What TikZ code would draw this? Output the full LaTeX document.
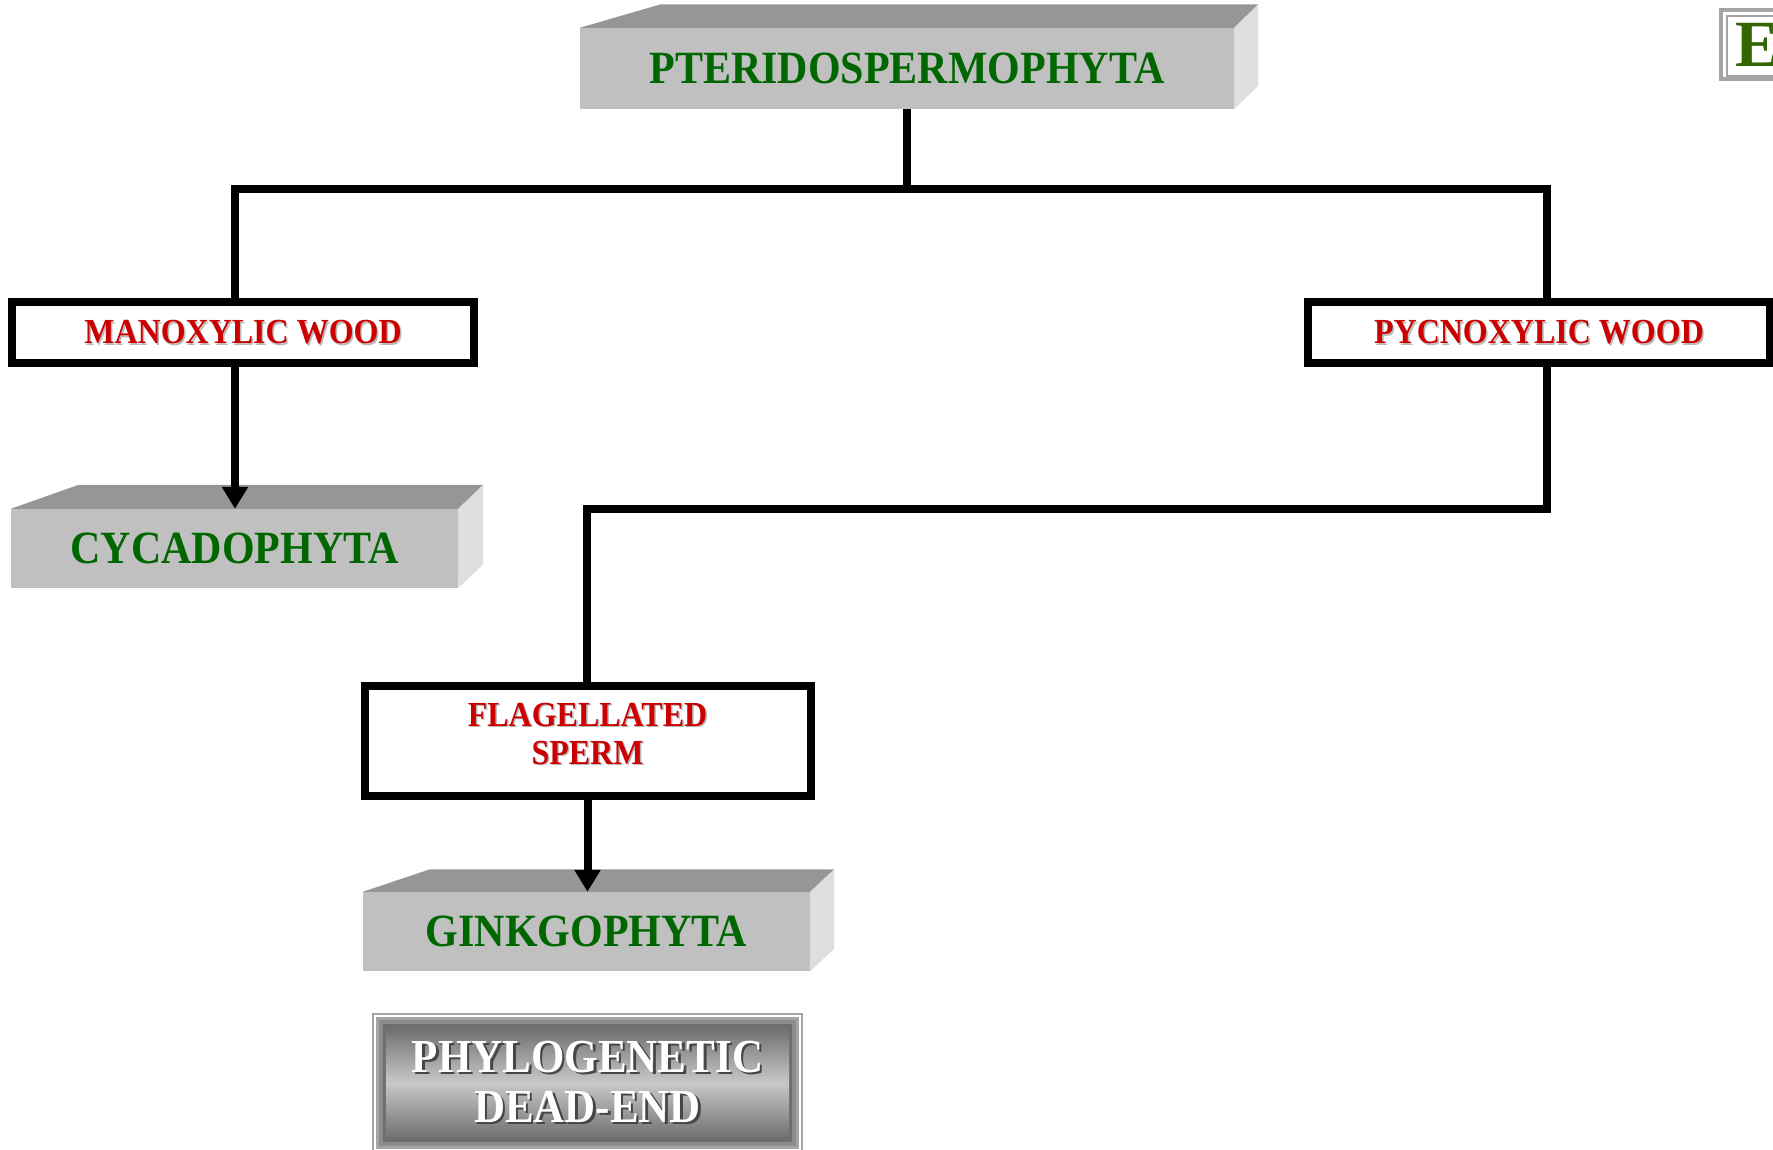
\documentclass[tikz,border=0pt]{standalone}
\usepackage{fontspec}
\setmainfont{Liberation Serif}
\usetikzlibrary{arrows.meta}
\definecolor{boxfront}{RGB}{192,192,192}
\definecolor{boxtop}{RGB}{150,150,150}
\definecolor{boxside}{RGB}{222,222,222}
\definecolor{tgreen}{RGB}{0,102,0}
\definecolor{tred}{RGB}{204,0,0}
\definecolor{rshadow}{RGB}{185,185,185}
\definecolor{egreen}{RGB}{51,102,0}
\definecolor{frameg}{RGB}{165,165,165}
\definecolor{framemid}{RGB}{140,140,140}
\definecolor{deaddark}{RGB}{110,110,110}
\definecolor{deadlight}{RGB}{200,200,200}
\definecolor{wshadow}{RGB}{70,70,70}
\newcommand{\stretchtxt}[1]{\scalebox{1}[1.1]{#1}}
\newcommand{\redtxt}[1]{\stretchtxt{\rlap{\kern1.5pt\raisebox{-1.5pt}{\color{rshadow}#1}}\color{tred}#1}}
\newcommand{\whitetxt}[1]{\stretchtxt{\rlap{\kern2.5pt\raisebox{-2.5pt}{\color{wshadow}#1}}\color{white}#1}}
\newcommand{\boxfaces}[4]{%
  \fill[boxtop] (#1.north west) -- ++(#2,#4) -- ([shift={(#3,#4)}]#1.north east) -- (#1.north east) -- cycle;
  \fill[boxside] (#1.north east) -- ++(#3,#4) -- ([shift={(#3,#4)}]#1.south east) -- (#1.south east) -- cycle;}
\begin{document}
\begin{tikzpicture}[x=1pt,y=-1pt,
  solidbox/.style={fill=boxfront, inner sep=0pt, minimum width=447pt, minimum height=79pt,
    text=tgreen, font=\fontsize{42}{50}\selectfont\bfseries},
  wordbox/.style={draw=black, line width=8pt, fill=white, inner sep=0pt,
    minimum width=462pt, minimum height=61pt, align=center,
    font=\fontsize{32}{38}\selectfont\bfseries},
  conn/.style={line width=8pt, draw=black},
  tipped/.style={-{Triangle[length=22pt,width=25pt]}},
]
\useasboundingbox (0,0) rectangle (1773,1150);
\fill[white] (0,0) rectangle (1773,1150);

% 3D boxes
\node[solidbox, minimum width=654pt, minimum height=81pt] (pter) at (907,68.5) {\stretchtxt{PTERIDOSPERMOPHYTA}};
\boxfaces{pter}{81}{24}{-23.5}
\node[solidbox] (cyc) at (234.5,548.5) {\stretchtxt{CYCADOPHYTA}};
\boxfaces{cyc}{68}{25}{-24}
\node[solidbox] (gink) at (586.5,931.5) {\stretchtxt{GINKGOPHYTA}};
\boxfaces{gink}{67}{24}{-22.5}

% character boxes
\node[wordbox] (mano) at (243,333) {\redtxt{MANOXYLIC WOOD}};
\node[wordbox] (pyc) at (1539,333) {\redtxt{PYCNOXYLIC WOOD}};
\node[wordbox, minimum width=446pt, minimum height=110pt] (flag) at (587.5,740.5) {};
\node[align=center, inner sep=0pt, font=\fontsize{32}{38}\selectfont\bfseries] (flagtxt) at (587.5,734.5) {\redtxt{FLAGELLATED}\\\redtxt{SPERM}};

% connectors
\coordinate (jl) at (235,189);
\coordinate (jr) at (1547,189);
\coordinate (jm) at (587,509);
\draw[conn] (pter.south) -- (pter.south |- jl);
\draw[conn, line cap=rect] (jl) -- (jr);
\draw[conn] (jl) -- (jl |- mano.north);
\draw[conn] (jr) -- (jr |- pyc.north);
\draw[conn, tipped] (jl |- mano.south) -- (jl |- cyc.north);
\draw[conn, line join=miter] (jr |- pyc.south) -- (jr |- jm) -- (jm) -- (jm |- flag.north);
\draw[conn, tipped] (flag.south) -- (flag.south |- gink.north);

% dead-end box
\node[inner sep=0pt, minimum width=431pt, minimum height=140pt] (deadbg) at (587.5,1083) {};
\fill[frameg] (deadbg.north west) rectangle (deadbg.south east);
\fill[white] ([shift={(2.5,2.5)}]deadbg.north west) rectangle ([shift={(-2.5,-2.5)}]deadbg.south east);
\fill[frameg] ([shift={(4.5,4.5)}]deadbg.north west) rectangle ([shift={(-4.5,-4.5)}]deadbg.south east);
\fill[framemid] ([shift={(7.5,7.5)}]deadbg.north west) rectangle ([shift={(-7.5,-7.5)}]deadbg.south east);
\fill[deaddark] ([shift={(11,11)}]deadbg.north west) rectangle ([shift={(-11,-11)}]deadbg.south east);
\shade[top color=deaddark, bottom color=deaddark, middle color=deadlight]
  ([shift={(14,14)}]deadbg.north west) rectangle ([shift={(-14,-14)}]deadbg.south east);
\node[inner sep=0pt, align=center, font=\fontsize{43}{50}\selectfont\bfseries] (dead) at (587.5,1083)
  {\whitetxt{PHYLOGENETIC}\\\whitetxt{DEAD-END}};

% corner E box
\draw[frameg, line width=4.3pt] (1721,10.3) rectangle (1800,79);
\draw[frameg, line width=2.3pt] (1727.2,16.2) rectangle (1800,76.2);
\node[anchor=base west, inner sep=0pt, text=egreen, font=\fontsize{66}{70}\selectfont\bfseries] (eletter) at (1735,66.7) {E};
\end{tikzpicture}
\end{document}
